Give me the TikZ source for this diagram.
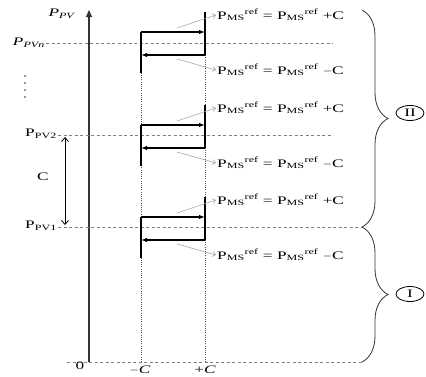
\documentclass[tikz,border=0pt]{standalone}
\usepackage{fontspec}
\setmainfont{Liberation Serif}[FakeStretch=1.5]
\usetikzlibrary{arrows.meta, shapes.geometric, decorations.pathreplacing, calc}

\newcommand{\Pref}{P\textsubscript{MS}\textsuperscript{ref}}

\begin{document}
\begin{tikzpicture}[
  x=1pt, y=1pt,
  font=\fontsize{11.5}{13}\selectfont,
  level/.style={gray, dash pattern=on 3pt off 2.5pt, line width=0.7pt},
  guide/.style={gray!70!black, dash pattern=on 1pt off 1.2pt, line width=0.8pt},
  edge/.style={line width=1.6pt},
  loopline/.style={line width=1.6pt, -{Latex[length=6pt,width=4.5pt]}},
  pointer/.style={gray!70, line width=0.6pt, -{Straight Barb[length=3pt,width=5pt]}},
  region/.style={draw, ellipse, line width=0.8pt, minimum width=28pt, minimum height=15pt, inner sep=1pt}
]
  \useasboundingbox (0,0) rectangle (426,376);

  % axis and zero line
  \coordinate (o) at (89,14);
  \coordinate (top) at (89,366);
  \node (zero) at (80,10) {0};
  \coordinate (zeroend) at (362,14);
  \draw[level] (67,14) -- (zeroend);
  \draw[line width=1.1pt, gray!40!black, -{Triangle[length=7pt,width=6pt]}] (o) -- (top);
  \node (ppv) at (62,362) {\textit{P}\textsubscript{\textit{PV}}};

  % levels
  \node[anchor=east, inner sep=1pt] (pvn) at (46,333) {\textit{P}\textsubscript{\textit{PVn}}};
  \node[anchor=east, inner sep=1pt] (pv2) at (58,242) {P\textsubscript{PV2}};
  \node[anchor=east, inner sep=1pt] (pv1) at (58,150) {P\textsubscript{PV1}};
  \coordinate (pvnend) at (333,333);
  \coordinate (pv2end) at (333,241);
  \coordinate (pv1end) at (362,149);
  \draw[level] (pvn.east |- pvnend) -- (pvnend);
  \draw[level] (pv2.east |- pv2end) -- (pv2end);
  \draw[level] (pv1.east |- pv1end) -- (pv1end);
  \foreach \d in {0,1,2,3}
    \fill[gray!40!black] (25,300-\d*7) circle (0.9pt);

  % step C
  \coordinate (ca) at (65,239);
  \coordinate (cb) at (65,151);
  \draw[line width=0.8pt, {Straight Barb[length=4pt,width=7pt]}-{Straight Barb[length=4pt,width=7pt]}] (ca) -- (cb);
  \node (cstep) at (43,199) {C};

  % band limits
  \node (mc) at (140,6) {$-$\textit{C}};
  \node (pc) at (205,6) {+\textit{C}};
  \draw[guide] (141,14) -- (141,344);
  \draw[guide] (205,14) -- (205,344);

  % hysteresis loops
  \foreach \i/\t in {n/344, 2/251, 1/159} {
    \coordinate (tl\i) at (141,\t);
    \coordinate (tr\i) at (205,\t);
    \coordinate (bl\i) at (141,\t-23);
    \coordinate (br\i) at (205,\t-23);
    \draw[edge] ($(tr\i)+(0,20)$) -- (br\i);
    \draw[edge] (tl\i) -- ($(bl\i)+(0,-18)$);
    \draw[loopline] (tl\i) -- (tr\i);
    \draw[loopline] (br\i) -- (bl\i);
    \node[anchor=west, inner sep=1pt] (up\i) at (216,\t+17) {\Pref{} = \Pref{} +C};
    \node[anchor=west, inner sep=1pt] (dn\i) at (216,\t-38) {\Pref{} = \Pref{} $-$C};
    \draw[pointer] ($(tr\i)+(-28,4)$) -- (up\i.west);
    \draw[pointer] ($(br\i)+(-28,-4)$) -- (dn\i.west);
  }

  % regions
  \draw[gray!40!black, line width=0.8pt, decorate, decoration={brace, amplitude=26pt}] (362,366) -- (pv1end);
  \draw[gray!40!black, line width=0.8pt, decorate, decoration={brace, amplitude=26pt}] (pv1end) -- (zeroend);
  \node[region] (two) at (410,263) {II};
  \node[region] (one) at (410,82) {I};
\end{tikzpicture}
\end{document}
